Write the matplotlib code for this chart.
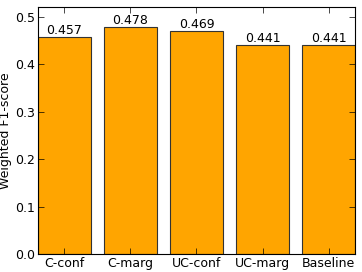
import matplotlib
matplotlib.use("Agg")
import matplotlib.pyplot as plt

categories = ["C-conf", "C-marg", "UC-conf", "UC-marg", "Baseline"]
scores = [0.457, 0.478, 0.469, 0.441, 0.441]
labels = ["0.457", "0.478", "0.469", "0.441", "0.441"]

fig = plt.figure(figsize=(3.62, 2.72), dpi=100)
ax = fig.add_axes([38/362, 1-254/272, (355-38)/362, (254-7)/272])
x = list(range(len(categories)))
bars = ax.bar(x, scores, width=0.8, color="#FFA500", edgecolor="#333333", linewidth=0.8)
for xi, v, lab in zip(x, scores, labels):
    ax.text(xi, v, lab, ha="center", va="bottom", fontsize=9)
ax.set_xlim(-0.4, 4.4)
ax.set_ylim(0, 0.52)
ax.set_yticks([0.0, 0.1, 0.2, 0.3, 0.4, 0.5])
ax.set_xticks(x)
ax.set_xticklabels(categories, fontsize=9)
ax.tick_params(axis="y", labelsize=9)
ax.tick_params(direction="in", top=True, right=True, length=4, width=0.5, pad=2)
ax.set_ylabel("Weighted F1-score", fontsize=9, labelpad=2)
for s in ax.spines.values():
    s.set_linewidth(0.8)
fig.savefig("out.png", dpi=100)
